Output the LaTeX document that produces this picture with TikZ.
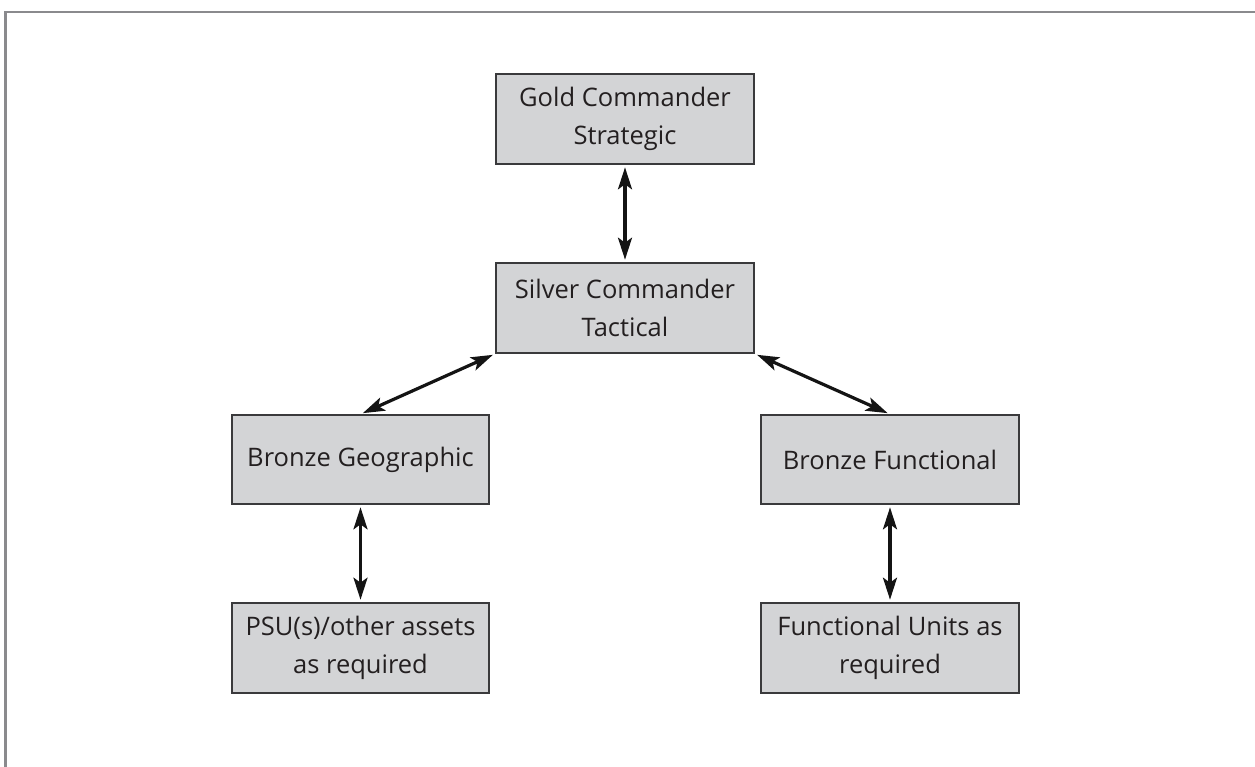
\documentclass[tikz,border=0pt]{standalone}
\usepackage{fontspec}
\setmainfont{Open Sans}
\usetikzlibrary{arrows.meta}
\definecolor{boxfill}{HTML}{D3D4D6}
\definecolor{boxline}{HTML}{3A3A3C}
\definecolor{framegray}{HTML}{8A8A8D}
\definecolor{txt}{HTML}{231F20}
\tikzset{
  cbox/.style={draw=boxline, line width=1.6pt, fill=boxfill, inner sep=0pt,
    align=center, text=txt, font=\fontsize{25.5}{38.5}\selectfont},
  link/.style={line width=3.2pt, draw=black!92,
    {Stealth[length=22pt,width=14pt,inset=5pt]}-{Stealth[length=22pt,width=14pt,inset=5pt]},
    shorten <=2.5pt, shorten >=2.5pt},
  frameline/.style={draw=framegray, line width=2.6pt}
}
\begin{document}
\begin{tikzpicture}[x=1pt,y=-1pt]
\useasboundingbox (0,0) rectangle (1255,767);
\coordinate (ftop) at (1255,12);
\coordinate (fcorner) at (5.3,12);
\coordinate (fbottom) at (5.3,767);
\draw[frameline] (ftop) -- (fcorner) -- (fbottom);

\node[cbox, minimum width=258pt, minimum height=90pt] (gold) at (625,119) {Gold Commander\\Strategic};
\node[cbox, minimum width=258pt, minimum height=90pt] (silver) at (625,308) {Silver Commander\\Tactical};
\node[cbox, minimum width=257pt, minimum height=89pt] (geo) at (360.5,459.5) {Bronze Geographic};
\node[cbox, minimum width=258pt, minimum height=89pt] (func) at (890,459.5) {Bronze Functional};
\node[cbox, minimum width=257pt, minimum height=90pt] (psu) at (360.5,648) {PSU(s)/other assets\\as required};
\node[cbox, minimum width=258pt, minimum height=90pt] (fu) at (890,648) {Functional Units as\\required};

\draw[link] (gold.south) -- (silver.north);
\draw[link] (silver.south west) -- (geo.north);
\draw[link] (silver.south east) -- (func.north);
\draw[link] (geo.south) -- (psu.north);
\draw[link] (func.south) -- (fu.north);
\end{tikzpicture}
\end{document}
